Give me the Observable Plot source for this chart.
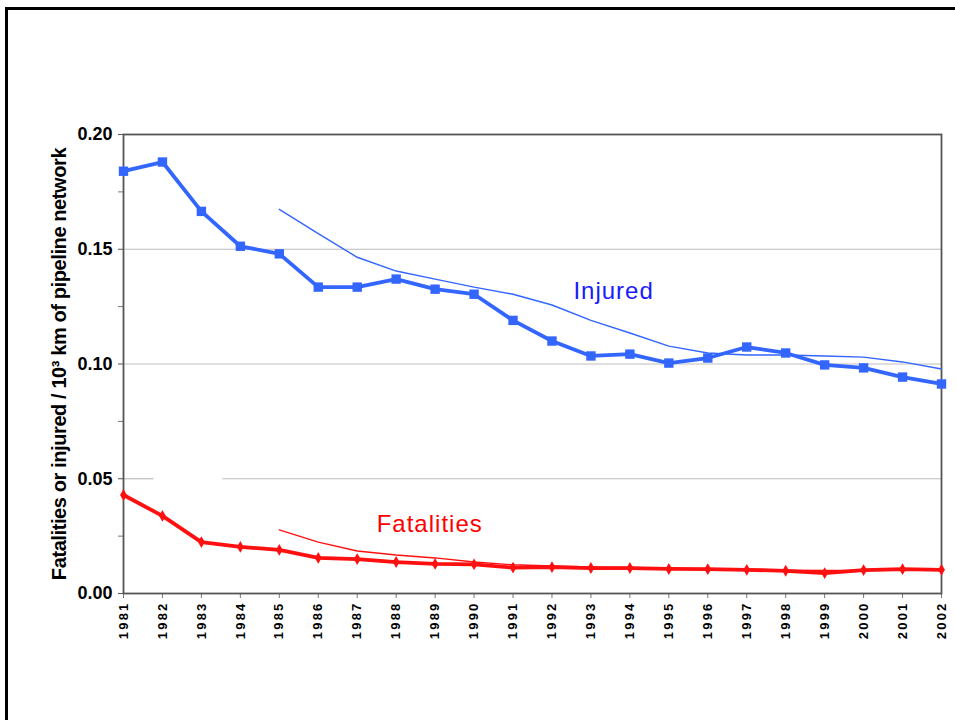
<!DOCTYPE html>
<html><head><meta charset="utf-8">
<script src="https://cdn.jsdelivr.net/npm/d3@7"></script>
<script src="https://cdn.jsdelivr.net/npm/@observablehq/plot@0.6"></script>
<style>
body{margin:0;background:#fff;}
#wrap{position:relative;width:955px;height:720px;overflow:hidden;background:#fff}
#border{position:absolute;left:5px;top:7px;width:1000px;height:800px;border:3px solid #000;box-sizing:border-box}
#chart{position:absolute;left:0;top:0}
#chart svg{font-family:"Liberation Sans",Arial,sans-serif;}
g[aria-label="text"] text{letter-spacing:1px}
g[aria-label="x-axis tick label"] text{letter-spacing:2.2px}
g[aria-label="y-axis label"] text{letter-spacing:-0.4px}
</style></head><body>
<div id="wrap"><div id="border"></div><div id="chart"></div></div>
<script>
const years = [1981,1982,1983,1984,1985,1986,1987,1988,1989,1990,1991,1992,1993,1994,1995,1996,1997,1998,1999,2000,2001,2002];
const injured = [0.184,0.188,0.1665,0.1513,0.148,0.1335,0.1335,0.137,0.1326,0.1304,0.119,0.110,0.1035,0.1043,0.1004,0.1026,0.1074,0.1048,0.0996,0.0983,0.0943,0.0913];
const fatalities = [0.0429,0.0338,0.0224,0.0203,0.019,0.0155,0.015,0.0137,0.0129,0.0127,0.0113,0.0115,0.0111,0.0111,0.0107,0.0106,0.0103,0.0099,0.0089,0.0102,0.0106,0.0103];
const trendYears = [1985,1986,1987,1988,1989,1990,1991,1992,1993,1994,1995,1996,1997,1998,1999,2000,2001,2002];
const injuredTrend = [0.1674,0.1568,0.1465,0.1405,0.137,0.1335,0.1304,0.1257,0.119,0.1135,0.1078,0.1048,0.1039,0.1039,0.1035,0.103,0.1009,0.0978];
const fatalitiesTrend = [0.0277,0.0224,0.0185,0.0168,0.0155,0.0137,0.0125,0.012,0.0116,0.0113,0.011,0.0107,0.0105,0.0102,0.01,0.01,0.0101,0.0103];
const yMajor = [0, 0.05, 0.10, 0.15, 0.20];
const yMinor = [0.025, 0.075, 0.125, 0.175];
const gridLines = [
  {y: 0.05, x1: 1981, x2: 1981.78},
  {y: 0.05, x1: 1983.55, x2: 2002},
  {y: 0.10, x1: 1981, x2: 2002},
  {y: 0.15, x1: 1981, x2: 2002}
];
const seriesLabels = [
  {name: "Injured", x: 1992.55, y: 0.1318, color: "#1a1aff"},
  {name: "Fatalities", x: 1987.5, y: 0.0303, color: "#ff0000"}
];
const yLabel = "Fatalities or injured / 10³ km of pipeline network";

const inj = years.map((y, i) => ({year: y, v: injured[i]}));
const fat = years.map((y, i) => ({year: y, v: fatalities[i]}));
const injT = trendYears.map((y, i) => ({year: y, v: injuredTrend[i]}));
const fatT = trendYears.map((y, i) => ({year: y, v: fatalitiesTrend[i]}));

const blue = "#3366ff", red = "#ff1010";

const chart = Plot.plot({
  width: 955, height: 720,
  marginLeft: 123, marginTop: 134, marginRight: 14, marginBottom: 127,
  x: {domain: [1981, 2002]},
  y: {domain: [0, 0.2]},
  marks: [
    Plot.ruleY(gridLines, {y: "y", x1: "x1", x2: "x2", stroke: "#bdbdbd", strokeWidth: 1.2}),
    Plot.axisY({ticks: yMajor, tickFormat: d3.format(".2f"), tickSize: 5, tickPadding: 6,
      fontSize: 18, fontWeight: "bold", label: yLabel, labelArrow: "none", labelAnchor: "center", labelOffset: 72, stroke: "#555"}),
    Plot.axisY({ticks: yMinor, tickFormat: () => "", tickSize: 5, label: null, stroke: "#777"}),
    Plot.axisX({ticks: years, tickFormat: d => String(d), tickRotate: -90, tickSize: 5, tickPadding: 3,
      fontSize: 13, fontWeight: "bold", label: null, stroke: "#777"}),
    Plot.frame({stroke: "#555", strokeWidth: 1.8}),
    Plot.line(injT, {x: "year", y: "v", stroke: blue, strokeWidth: 1.4}),
    Plot.line(fatT, {x: "year", y: "v", stroke: red, strokeWidth: 1.4}),
    Plot.line(inj, {x: "year", y: "v", stroke: blue, strokeWidth: 3.8}),
    Plot.line(fat, {x: "year", y: "v", stroke: red, strokeWidth: 3.8}),
    Plot.dot(inj, {x: "year", y: "v", symbol: "square", r: 5.3, fill: blue, stroke: null}),
    Plot.dot(fat, {x: "year", y: "v", symbol: "diamond", r: 3.6, fill: red, stroke: null}),
    Plot.text(seriesLabels, {x: "x", y: "y", text: "name", fill: "color", fontSize: 24, textAnchor: "start"})
  ]
});
document.getElementById("chart").appendChild(chart);
d3.select(chart).select('g[aria-label="y-axis label"] text').text(yLabel).attr("font-weight", "bold").attr("font-size", 20).attr("fill", "#000");
</script>
</body></html>
